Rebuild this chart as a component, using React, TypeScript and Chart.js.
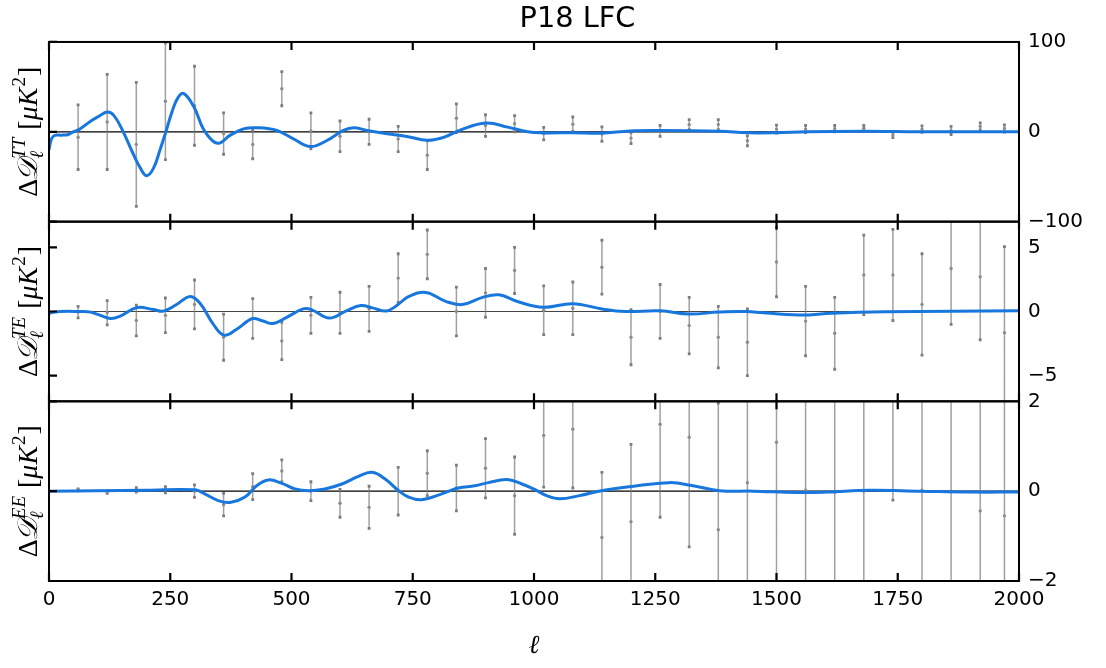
import React, { useEffect, useRef } from 'react';
import { Chart, registerables } from 'chart.js';

Chart.register(...registerables);

// ---- binned multipole centres ----
const ELL = [60, 120, 180, 240, 300, 360, 420, 480, 540, 600, 660, 720, 780, 840, 900, 960, 1020, 1080, 1140, 1200, 1260, 1320, 1380, 1440, 1500, 1560, 1620, 1680, 1740, 1800, 1860, 1920, 1970];

// ---- TT residuals ----
const TT_VAL = [-6, 11, -14, 34, 29, -2, -14, 48, 1, -5, 0, -8, -26, 15, 7, 9, -2, 8.5, -2.5, -7, 1, 8, 8, -10, 3, 3, 3.5, 4, -3.5, 3, 1.5, 6, 3.7];
const TT_ERR = [36, 53, 69, 65, 44, 23, 16, 19, 20, 17, 14, 14, 16, 16, 12, 9, 7, 8, 8, 6, 6, 5.5, 5.5, 5.5, 4.5, 4, 3.5, 3, 3, 3.5, 4.5, 4, 4];

// ---- TE residuals ----
const TE_VAL = [-0.05, -0.1, -0.7, -0.3, 0.55, -2.0, -0.55, -2.3, -0.3, -0.1, 0.2, 2.6, 4.45, 0.0, 1.45, 3.2, 0.1, 0.25, 3.45, -2.0, 0.0, -1.1, -2.0, -2.4, 3.85, -0.75, -1.7, 2.85, 2.85, 0.55, 3.35, 2.7, -1.65];
const TE_ERR = [0.45, 0.95, 1.2, 1.35, 1.9, 1.8, 1.55, 1.45, 1.4, 1.6, 1.75, 1.9, 1.9, 1.9, 1.9, 1.8, 1.9, 2.05, 2.1, 2.15, 2.1, 2.2, 2.4, 2.6, 2.7, 2.7, 2.8, 3.1, 3.55, 3.95, 4.35, 4.9, 6.7];

// ---- EE residuals ----
const EE_VAL = [0.03, -0.02, 0.03, 0.03, 0.0, -0.3, 0.1, 0.45, 0.0, -0.27, -0.36, 0.0, 0.4, 0.07, 0.51, -0.1, 1.24, 1.38, -1.03, -0.68, 1.49, 1.2, -0.86, 0.19, 1.09, 0.02, -0.03, 0.0, 2.8, 0.02, 0.0, -0.44, -0.55];
const EE_ERR = [0.02, 0.03, 0.05, 0.07, 0.14, 0.25, 0.29, 0.245, 0.21, 0.31, 0.47, 0.53, 0.5, 0.51, 0.66, 0.86, 1.15, 1.31, 1.45, 1.72, 2.07, 2.44, 2.82, 3.2, 3.6, 3.9, 4.3, 4.7, 3.0, 5.6, 6.2, 6.9, 7.6];

// ---- model difference curves ----
const TT_CURVE_L = [0, 5, 12, 25, 40, 50, 62, 85, 102, 120, 134, 153, 174, 188, 201, 215, 229, 241, 254, 266, 278, 299, 318, 339, 353, 373, 401, 428, 470, 504, 539, 573, 607, 628, 656, 697, 738, 780, 815, 849, 901, 946, 987, 1019, 1080, 1139, 1198, 1260, 1384, 1440, 1500, 1562, 1679, 1796, 2000];
const TT_CURVE_V = [-20, -8, -4, -3.8, -3, 0, 2.5, 11.5, 17, 22, 18, 0, -25, -40, -48.8, -41, -20, 0, 23, 38, 42.5, 27.5, 3.3, -10.8, -12.3, -4, 3.3, 4.5, 1.5, -7.8, -16.4, -9.7, 1.5, 4.5, 1.5, -2.2, -5.2, -9.4, -6, 2.2, 9.7, 5.2, 0, -1.2, -1, -1.5, 1, 1.5, 0.5, -1.1, -1, 0, 0.5, 0, 0];

const TE_CURVE_L = [0, 3, 23, 61, 86, 126, 147, 181, 215, 236, 263, 291, 311, 339, 361, 387, 419, 441, 462, 489, 524, 541, 578, 612, 643, 667, 695, 715, 742, 777, 818, 852, 894, 928, 969, 1019, 1080, 1140, 1188, 1260, 1320, 1381, 1436, 1546, 1615, 1725, 2000];
const TE_CURVE_V = [-0.2, -0.1, 0, 0, -0.05, -0.54, -0.36, 0.3, 0.15, 0.03, 0.54, 1.17, 0.66, -1.0, -1.84, -1.38, -0.56, -0.74, -0.94, -0.48, 0.2, 0.15, -0.51, 0.03, 0.46, 0.28, 0.03, 0.41, 1.17, 1.48, 0.79, 0.54, 1.1, 1.3, 0.74, 0.33, 0.61, 0.2, 0, 0.05, -0.2, -0.05, 0, -0.28, -0.13, -0.03, 0.05];

const EE_CURVE_L = [0, 200, 301, 321, 349, 373, 404, 428, 452, 479, 507, 535, 569, 604, 638, 666, 693, 721, 741, 768, 810, 844, 878, 906, 944, 975, 999, 1026, 1053, 1094, 1139, 1198, 1280, 1328, 1383, 1452, 1541, 1603, 1692, 1796, 1899, 2000];
const EE_CURVE_V = [0, 0.02, 0.03, -0.06, -0.21, -0.25, -0.13, 0.12, 0.25, 0.18, 0.05, 0.01, 0.05, 0.16, 0.33, 0.42, 0.27, 0.01, -0.13, -0.19, -0.06, 0.07, 0.12, 0.19, 0.26, 0.16, 0.05, -0.1, -0.17, -0.1, 0.01, 0.1, 0.19, 0.12, 0.01, 0, -0.03, -0.02, 0.02, 0, -0.02, -0.02];

// ---- ticks ----
const X_TICKS = [0, 250, 500, 750, 1000, 1250, 1500, 1750, 2000];
const TT_TICKS = [-100, 0, 100];
const TE_TICKS = [-5, 0, 5];
const EE_TICKS = [-2, 0, 2];

const TITLE = 'P18 LFC';

const BLUE = '#1877dc';
const FONT = '"DejaVu Sans", sans-serif';
const MATH = '"Liberation Serif", "DejaVu Serif", serif';

const fmt = (v: number) => (v < 0 ? '\u2212' + Math.abs(v) : String(v));

const curve = (ls: number[], vs: number[]) => ls.map((l, i) => ({ x: l, y: vs[i] }));
const bars = (vals: number[], errs: number[]) => {
  const out: any[] = [];
  ELL.forEach((l, i) => {
    out.push({ x: l, y: vals[i] - errs[i] });
    out.push({ x: l, y: vals[i] + errs[i] });
    out.push({ x: l, y: null });
  });
  return out;
};
const centres = (vals: number[]) => ELL.map((l, i) => ({ x: l, y: vals[i] }));

const PANELS = [
  { id: 'yTT', val: TT_VAL, err: TT_ERR, cl: TT_CURVE_L, cv: TT_CURVE_V, min: -100, max: 100, ticks: TT_TICKS, sup: 'TT', zero: '#000000' },
  { id: 'yTE', val: TE_VAL, err: TE_ERR, cl: TE_CURVE_L, cv: TE_CURVE_V, min: -7, max: 7, ticks: TE_TICKS, sup: 'TE', zero: '#444444' },
  { id: 'yEE', val: EE_VAL, err: EE_ERR, cl: EE_CURVE_L, cv: EE_CURVE_V, min: -2, max: 2, ticks: EE_TICKS, sup: 'EE', zero: '#000000' },
];

function drawMathLabel(ctx: CanvasRenderingContext2D, bx: number, cy: number, sup: string) {
  const size = 28;
  const small = 19;
  const parts: { t: string; f: string; dy: number; adj: number; stackWith?: { t: string; f: string; dy: number } }[] = [
    { t: '\u0394', f: `${size}px ${MATH}`, dy: 0, adj: -2 },
    { t: '\uD835\uDC9F', f: `italic ${size}px ${MATH}`, dy: 0, adj: 0 },
    { t: sup, f: `italic ${small}px ${MATH}`, dy: -12, adj: 1, stackWith: { t: '\u2113', f: `italic ${small}px ${MATH}`, dy: 6 } },
    { t: ' [', f: `${size}px ${MATH}`, dy: 0, adj: 0 },
    { t: '\u03BCK', f: `italic ${size}px ${MATH}`, dy: 0, adj: 1 },
    { t: '2', f: `${small}px ${MATH}`, dy: -12, adj: 1 },
    { t: ']', f: `${size}px ${MATH}`, dy: 0, adj: 0 },
  ];
  const widths = parts.map((p) => {
    ctx.font = p.f;
    let w = ctx.measureText(p.t).width;
    if (p.stackWith) {
      ctx.font = p.stackWith.f;
      w = Math.max(w, ctx.measureText(p.stackWith.t).width);
    }
    return w + p.adj;
  });
  const total = widths.reduce((a, b) => a + b, 0);
  ctx.save();
  ctx.translate(bx, cy);
  ctx.rotate(-Math.PI / 2);
  ctx.fillStyle = '#000';
  ctx.textBaseline = 'alphabetic';
  ctx.textAlign = 'left';
  let x = -total / 2;
  parts.forEach((p, i) => {
    ctx.font = p.f;
    ctx.fillText(p.t, x, p.dy);
    if (p.stackWith) {
      ctx.font = p.stackWith.f;
      ctx.fillText(p.stackWith.t, x, p.stackWith.dy);
    }
    x += widths[i];
  });
  ctx.restore();
}

const framePlugin = {
  id: 'panelFrames',
  afterDatasetsDraw(chart: any) {
    const ctx: CanvasRenderingContext2D = chart.ctx;
    const xs = chart.scales.x;
    const L = xs.left;
    const R = xs.right;
    ctx.save();
    ctx.strokeStyle = '#000';
    PANELS.forEach((p) => {
      const s = chart.scales[p.id];
      const T = s.top;
      const B = s.bottom;
      ctx.lineWidth = 2;
      ctx.strokeRect(L, T, R - L, B - T);
      ctx.lineWidth = 2.2;
      ctx.beginPath();
      X_TICKS.forEach((v) => {
        const px = xs.getPixelForValue(v);
        ctx.moveTo(px, T);
        ctx.lineTo(px, T + 8);
        ctx.moveTo(px, B);
        ctx.lineTo(px, B - 8);
      });
      p.ticks.forEach((v) => {
        const py = s.getPixelForValue(v);
        ctx.moveTo(L, py);
        ctx.lineTo(L + 8, py);
      });
      ctx.stroke();
      drawMathLabel(ctx, 37, (T + B) / 2, p.sup);
    });
    ctx.restore();
  },
};

export default function App() {
  const ref = useRef<HTMLCanvasElement | null>(null);
  useEffect(() => {
    document.body.style.margin = '0';
    const canvas = ref.current;
    if (!canvas) return;
    const datasets: any[] = [];
    PANELS.forEach((p) => {
      datasets.push({
        type: 'line', yAxisID: p.id, xAxisID: 'x', order: 3,
        data: [{ x: 0, y: 0 }, { x: 2000, y: 0 }],
        borderColor: p.zero, borderWidth: 1.2, pointRadius: 0, tension: 0,
      });
      datasets.push({
        type: 'line', yAxisID: p.id, xAxisID: 'x', order: 2, clip: 0,
        data: bars(p.val, p.err),
        borderColor: 'rgba(120,120,120,0.7)', borderWidth: 1.5, spanGaps: false, tension: 0,
        pointRadius: 2, pointStyle: 'rect', pointBackgroundColor: '#7c7c7c', pointBorderWidth: 0,
      });
      datasets.push({
        type: 'line', yAxisID: p.id, xAxisID: 'x', order: 1, clip: 0,
        data: centres(p.val), showLine: false,
        pointRadius: 1.7, pointStyle: 'circle', pointBackgroundColor: '#8c8c8c', pointBorderWidth: 0,
      });
      datasets.push({
        type: 'line', yAxisID: p.id, xAxisID: 'x', order: 0, clip: 0,
        data: curve(p.cl, p.cv),
        borderColor: BLUE, borderWidth: 3, pointRadius: 0, tension: 0.4,
      });
    });

    const yScale = (p: any) => ({
      type: 'linear', position: 'right', stack: 'panels', stackWeight: 1, offset: false,
      min: p.min, max: p.max,
      grid: { display: false, drawTicks: false },
      border: { display: false },
      ticks: { font: { family: FONT, size: 20 }, color: '#000', padding: 9, autoSkip: false, callback: (v: number) => fmt(v) },
      afterBuildTicks: (s: any) => { s.ticks = p.ticks.map((v: number) => ({ value: v })); },
      afterFit: (s: any) => { s.width = 87; },
    });

    const chart = new Chart(canvas, {
      type: 'line',
      data: { datasets },
      options: {
        responsive: false,
        animation: false,
        events: [],
        devicePixelRatio: 1,
        layout: { padding: { left: 49, right: 0, top: 0, bottom: 0 } },
        plugins: {
          legend: { display: false },
          tooltip: { enabled: false },
          title: {
            display: true, text: TITLE, color: '#000',
            font: { family: FONT, size: 28.8, weight: 'normal' },
            padding: { top: 2, bottom: 5.4 },
          },
        },
        scales: {
          x: {
            type: 'linear', position: 'bottom', min: 0, max: 2000, offset: false,
            grid: { display: false, drawTicks: false, offset: false },
            border: { display: false },
            ticks: { font: { family: FONT, size: 20 }, color: '#000', padding: 7, maxRotation: 0, autoSkip: false, callback: (v: number) => String(v) },
            afterBuildTicks: (s: any) => { s.ticks = X_TICKS.map((v) => ({ value: v })); },
            title: { display: true, text: '\u2113', color: '#000', font: { family: MATH, style: 'italic', size: 26 }, padding: { top: 0, bottom: 6 } },
            afterFit: (s: any) => { s.height = 87; },
          },
          yTT: yScale(PANELS[0]),
          yTE: yScale(PANELS[1]),
          yEE: yScale(PANELS[2]),
        } as any,
      },
      plugins: [framePlugin],
    } as any);
    return () => chart.destroy();
  }, []);
  return (
    <div style={{ width: 1106, height: 668, position: 'relative', background: '#fff' }}>
      <canvas ref={ref} width={1106} height={668} style={{ display: 'block' }} />
    </div>
  );
}
